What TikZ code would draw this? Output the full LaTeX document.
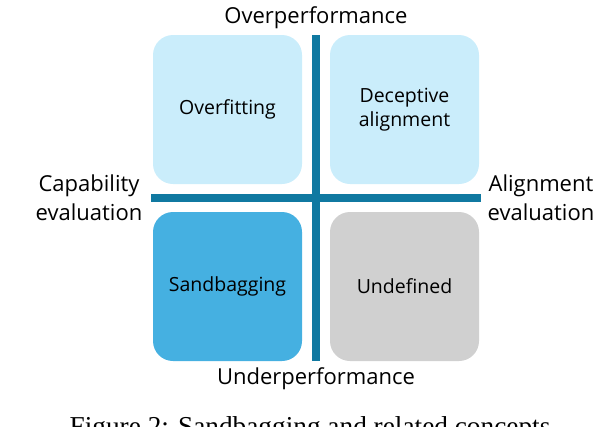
\documentclass[tikz,border=0pt]{standalone}
\usepackage{fontspec}
\setmainfont{Open Sans}
\newfontfamily\capfont{Liberation Serif}
\definecolor{barblue}{RGB}{16,121,161}
\definecolor{paleblue}{RGB}{202,237,251}
\definecolor{midblue}{RGB}{69,176,225}
\definecolor{softgray}{RGB}{208,208,208}
\tikzset{
  quad/.style={rounded corners=20pt, minimum width=149pt, minimum height=149pt,
    inner sep=0pt, align=center, font=\fontsize{19.5}{24}\selectfont},
  axislabel/.style={align=center, font=\fontsize{22}{29}\selectfont}
}
\begin{document}
\begin{tikzpicture}[x=1pt,y=-1pt]
    \useasboundingbox (0,0) rectangle (596,426);
    \clip (0,0) rectangle (596,426);

    % Quadrants
    \node[quad, fill=paleblue] (overfit) at (227.5,109.5) {Overfitting};
    \node[quad, fill=paleblue] (decept) at (404.5,109.5) {Deceptive\\alignment};
    \node[quad, fill=midblue] (sandbag) at (227.5,286.5) {Sandbagging};
    \node[quad, fill=softgray] (undef) at (404.5,286.5) {Undefined};

    % Axes
    \fill[barblue] (312,35) rectangle (320,361);
    \fill[barblue] (151,194) rectangle (481,202);

    % Axis labels
    \node[axislabel] (over) at (316,18) {Overperformance};
    \node[axislabel] (under) at (316,379) {Underperformance};
    \node[axislabel] (capab) at (89,198) {Capability\\evaluation};
    \node[axislabel] (align) at (541,198) {Alignment\\evaluation};

    % Caption
    \node[anchor=base, inner sep=0pt, font=\capfont\fontsize{27.3}{30}\selectfont] (caption) at (310,435)
      {Figure 2: Sandbagging and related concepts};
\end{tikzpicture}
\end{document}
